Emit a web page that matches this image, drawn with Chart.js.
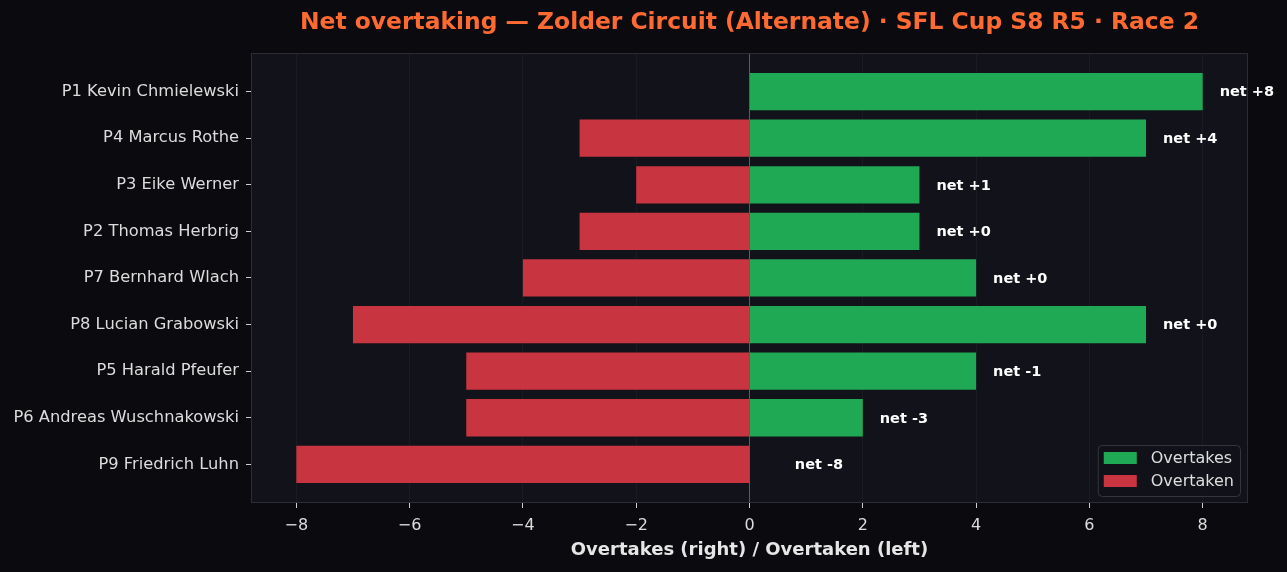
<!DOCTYPE html>
<html>
<head>
<meta charset="utf-8">
<script src="https://cdn.jsdelivr.net/npm/chart.js@4.4.1/dist/chart.umd.min.js"></script>
<style>
  html, body { margin: 0; padding: 0; background: #0b0b0f; }
  #wrap { width: 1287px; height: 572px; }
</style>
</head>
<body>
<div id="wrap"><canvas id="overtake-chart" width="1287" height="572"></canvas></div>
<script>
var drivers = [
  "P1 Kevin Chmielewski",
  "P4 Marcus Rothe",
  "P3 Eike Werner",
  "P2 Thomas Herbrig",
  "P7 Bernhard Wlach",
  "P8 Lucian Grabowski",
  "P5 Harald Pfeufer",
  "P6 Andreas Wuschnakowski",
  "P9 Friedrich Luhn"
];
var overtakes = [8, 7, 3, 3, 4, 7, 4, 2, 0];
var overtaken = [0, 3, 2, 3, 4, 7, 5, 5, 8];
var xTicks = [-8, -6, -4, -2, 0, 2, 4, 6, 8];

var FONT = "'DejaVu Sans', sans-serif";
var GREEN = "#20a954";
var RED = "#c8343f";

function points(values, sign){
  return values.map(function(v, i){ return {x: sign * v, y: i}; });
}

function fmtTick(v){
  return v < 0 ? "\u2212" + Math.abs(v) : String(v);
}

var plotFrame = {
  id: "plotFrame",
  beforeDraw: function(chart){
    var a = chart.chartArea, ctx = chart.ctx;
    ctx.save();
    ctx.fillStyle = "#0b0b0f";
    ctx.fillRect(0, 0, chart.width, chart.height);
    ctx.fillStyle = "#12131a";
    ctx.fillRect(a.left, a.top, a.right - a.left, a.bottom - a.top);
    ctx.restore();
  },
  afterDraw: function(chart){
    var a = chart.chartArea, ctx = chart.ctx;
    ctx.save();
    ctx.strokeStyle = "#2c2d36";
    ctx.lineWidth = 1;
    ctx.strokeRect(a.left + 0.5, a.top + 0.5, a.right - a.left - 1, a.bottom - a.top - 1);
    ctx.restore();
  }
};

var netLabels = {
  id: "netLabels",
  afterDatasetsDraw: function(chart){
    var xs = chart.scales.x, ys = chart.scales.y, ctx = chart.ctx;
    ctx.save();
    ctx.font = "bold 14.5px " + FONT;
    ctx.fillStyle = "#ffffff";
    ctx.textAlign = "left";
    ctx.textBaseline = "middle";
    for (var i = 0; i < drivers.length; i++) {
      var net = overtakes[i] - overtaken[i];
      var pos = (overtakes[i] > 0 ? overtakes[i] : 0.5) + 0.3;
      var txt = "net " + (net >= 0 ? "+" + net : String(net));
      ctx.fillText(txt, xs.getPixelForValue(pos), ys.getPixelForValue(i) + 1);
    }
    ctx.restore();
  }
};

var boxLegend = {
  id: "boxLegend",
  afterDraw: function(chart){
    var a = chart.chartArea, ctx = chart.ctx;
    var items = chart.data.datasets.map(function(d){ return {label: d.label, color: d.backgroundColor}; });
    ctx.save();
    ctx.font = "16px " + FONT;
    var tw = 0;
    items.forEach(function(it){ tw = Math.max(tw, ctx.measureText(it.label).width); });
    var w = 6 + 33 + 14 + tw + 6, h = 51;
    var x = a.right - 8 - w, y = a.bottom - 7 - h;
    ctx.beginPath();
    ctx.roundRect(x + 0.5, y + 0.5, w, h, 4);
    ctx.fillStyle = "rgba(18,19,26,0.85)";
    ctx.fill();
    ctx.strokeStyle = "#34353e";
    ctx.lineWidth = 1;
    ctx.stroke();
    ctx.textBaseline = "middle";
    ctx.textAlign = "left";
    items.forEach(function(it, k){
      var cy = y + 13 + k * 23;
      ctx.fillStyle = it.color;
      ctx.fillRect(x + 6, cy - 6, 33, 12);
      ctx.fillStyle = "#dedede";
      ctx.fillText(it.label, x + 6 + 33 + 14, cy + 1);
    });
    ctx.restore();
  }
};

var chartConfig = {
  type: "bar",
  data: {
    datasets: [{
      label: "Overtakes",
      data: points(overtakes, 1),
      backgroundColor: GREEN,
      grouped: false,
      barPercentage: 0.8,
      categoryPercentage: 1.0
    }, {
      label: "Overtaken",
      data: points(overtaken, -1),
      backgroundColor: RED,
      grouped: false,
      barPercentage: 0.8,
      categoryPercentage: 1.0
    }]
  },
  options: {
    indexAxis: "y",
    responsive: false,
    animation: false,
    layout: { padding: { left: 0, right: 39, top: 0, bottom: 0 } },
    plugins: {
      legend: { display: false },
      tooltip: { enabled: false },
      title: {
        display: true,
        fullSize: false,
        text: "Net overtaking \u2014 Zolder Circuit (Alternate) \u00b7 SFL Cup S8 R5 \u00b7 Race 2",
        color: "#ff6a33",
        font: { family: FONT, size: 23.4, weight: "bold", lineHeight: 1.2 },
        padding: { top: 9, bottom: 15.9 }
      }
    },
    scales: {
      x: {
        type: "linear",
        min: -8.8,
        max: 8.8,
        afterFit: function(s){ s.height = 69; },
        afterBuildTicks: function(s){ s.ticks = xTicks.map(function(v){ return {value: v}; }); },
        ticks: {
          color: "#dcdcdc",
          font: { family: FONT, size: 16 },
          padding: 8,
          callback: function(v){ return fmtTick(v); }
        },
        grid: {
          color: function(c){ return c.tick && c.tick.value === 0 ? "#5c5c62" : "rgba(255,255,255,0.035)"; },
          tickColor: "#cfcfcf",
          tickLength: 5,
          lineWidth: 1
        },
        border: { display: false },
        title: {
          display: true,
          text: "Overtakes (right) / Overtaken (left)",
          color: "#e6e6e6",
          font: { family: FONT, size: 18, weight: "bold", lineHeight: 1.2 },
          padding: { top: 0, bottom: 11 }
        }
      },
      y: {
        type: "linear",
        reverse: true,
        offset: false,
        min: -0.83,
        max: 8.83,
        afterFit: function(s){ s.width = 251; },
        afterBuildTicks: function(s){ s.ticks = drivers.map(function(d, i){ return {value: i}; }); },
        ticks: {
          color: "#dcdcdc",
          font: { family: FONT, size: 16.3 },
          padding: 7,
          autoSkip: false,
          callback: function(v){ return drivers[v] || ""; }
        },
        grid: {
          offset: false,
          drawOnChartArea: false,
          drawTicks: true,
          tickColor: "#cfcfcf",
          tickLength: 5
        },
        border: { display: false }
      }
    }
  },
  plugins: [plotFrame, netLabels, boxLegend]
};

function createChart(){
  var ctx = document.getElementById("overtake-chart").getContext("2d");
  window.overtakeChart = new Chart(ctx, chartConfig);
}

createChart();
</script>
</body>
</html>
